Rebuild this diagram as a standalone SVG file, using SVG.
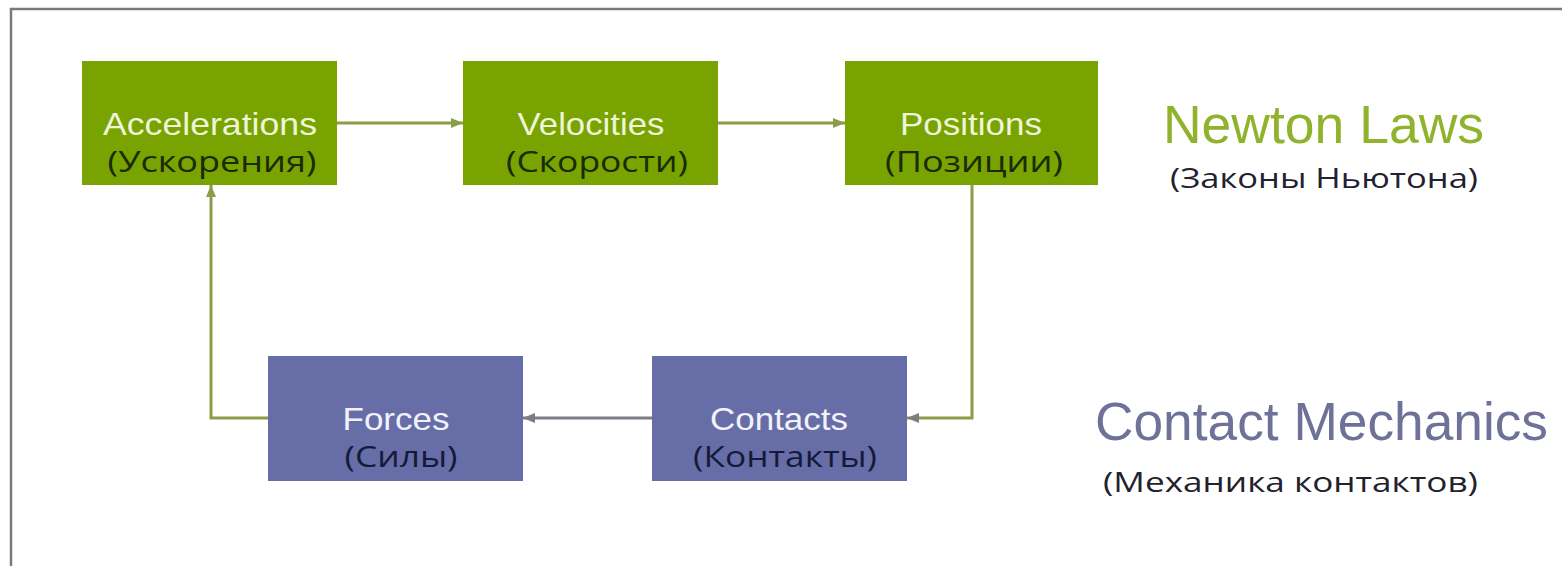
<svg xmlns="http://www.w3.org/2000/svg" width="1562" height="566" viewBox="0 0 1562 566">
<style>
.g{fill:#78a300}
.p{fill:#676da6}
.en{font-family:"Liberation Sans",Arial,sans-serif;font-size:32px;text-anchor:middle}
.ru{font-family:"Open Sans","Noto Sans",sans-serif;font-size:30px;text-anchor:middle}
.eng{fill:#eef5d8}
.rug{fill:#1a2b05}
.enp{fill:#f2f2fa}
.rup{fill:#151a3a}
.c{fill:none;stroke-width:3}
.cg{stroke:#8c9c48}
.cp{stroke:#7c7c86}
</style>
<defs>
<marker id="ag" markerUnits="userSpaceOnUse" markerWidth="14" markerHeight="12" refX="12" refY="6" orient="auto"><path d="M0,1 L12,6 L0,11 Z" fill="#8c9c48"/></marker>
<marker id="ap" markerUnits="userSpaceOnUse" markerWidth="14" markerHeight="12" refX="12" refY="6" orient="auto"><path d="M0,1 L12,6 L0,11 Z" fill="#7c7c86"/></marker>
</defs>
<rect x="11" y="9" width="1600" height="600" fill="#fff" stroke="#7a7a7a" stroke-width="2.5"/>
<g id="connectors">
<line class="c cg" x1="337" y1="123" x2="463" y2="123" marker-end="url(#ag)"/>
<line class="c cg" x1="718" y1="123" x2="845" y2="123" marker-end="url(#ag)"/>
<polyline class="c cg" points="972,185 972,418 907,418" marker-end="url(#ap)"/>
<line class="c cp" x1="652" y1="418" x2="523" y2="418" marker-end="url(#ap)"/>
<polyline class="c cg" points="268,418 211,418 211,185" marker-end="url(#ag)"/>
</g>
<g id="accelerations">
<rect class="g" x="82" y="61" width="255" height="124"/>
<text class="en eng" x="210" y="135" textLength="214" lengthAdjust="spacingAndGlyphs">Accelerations</text>
<text class="ru rug" x="212" y="172" textLength="209" lengthAdjust="spacingAndGlyphs">(Ускорения)</text>
</g>
<g id="velocities">
<rect class="g" x="463" y="61" width="255" height="124"/>
<text class="en eng" x="591" y="135" textLength="147" lengthAdjust="spacingAndGlyphs">Velocities</text>
<text class="ru rug" x="597" y="172" textLength="182" lengthAdjust="spacingAndGlyphs">(Скорости)</text>
</g>
<g id="positions">
<rect class="g" x="845" y="61" width="253" height="124"/>
<text class="en eng" x="971" y="135" textLength="142" lengthAdjust="spacingAndGlyphs">Positions</text>
<text class="ru rug" x="974" y="172" textLength="178" lengthAdjust="spacingAndGlyphs">(Позиции)</text>
</g>
<g id="forces">
<rect class="p" x="268" y="356" width="255" height="125"/>
<text class="en enp" x="396" y="430" textLength="107" lengthAdjust="spacingAndGlyphs">Forces</text>
<text class="ru rup" x="401" y="467" textLength="113" lengthAdjust="spacingAndGlyphs">(Силы)</text>
</g>
<g id="contacts">
<rect class="p" x="652" y="356" width="255" height="125"/>
<text class="en enp" x="779" y="430" textLength="138" lengthAdjust="spacingAndGlyphs">Contacts</text>
<text class="ru rup" x="785" y="467" textLength="184" lengthAdjust="spacingAndGlyphs">(Контакты)</text>
</g>
<g id="newton-laws">
<text x="1163" y="143" font-family="Liberation Sans,Arial,sans-serif" font-size="54" fill="#8fb32c" textLength="321" lengthAdjust="spacingAndGlyphs">Newton Laws</text>
<text x="1170" y="188" font-family="Open Sans,Noto Sans,sans-serif" font-size="28" fill="#22222e" textLength="308" lengthAdjust="spacingAndGlyphs">(Законы Ньютона)</text>
</g>
<g id="contact-mechanics">
<text x="1095" y="440" font-family="Liberation Sans,Arial,sans-serif" font-size="53" fill="#6e7198" textLength="453" lengthAdjust="spacingAndGlyphs">Contact Mechanics</text>
<text x="1103" y="492" font-family="Open Sans,Noto Sans,sans-serif" font-size="28" fill="#22222e" textLength="375" lengthAdjust="spacingAndGlyphs">(Механика контактов)</text>
</g>
</svg>
